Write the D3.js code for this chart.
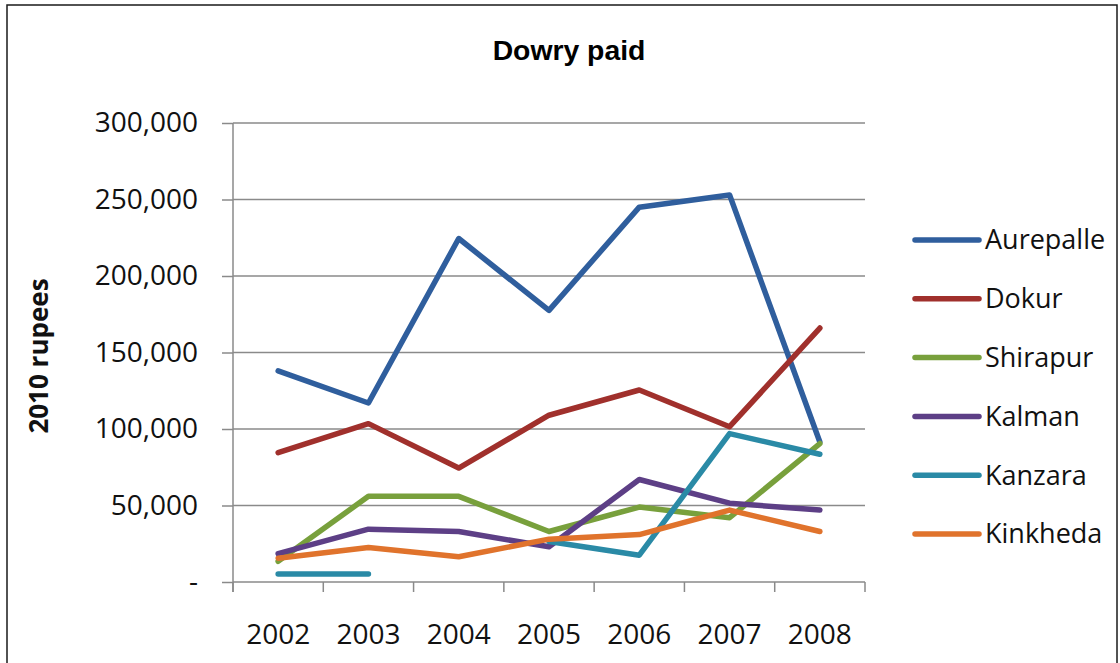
<!DOCTYPE html>
<html>
<head>
<meta charset="utf-8">
<script src="https://cdn.jsdelivr.net/npm/d3@7/dist/d3.min.js"></script>
<style>
  html, body { margin: 0; padding: 0; background: #fff; }
  svg { display: block; }
</style>
</head>
<body>
<svg id="chart" width="1120" height="663"></svg>
<script>
// Dowry paid per village, in 2010 rupees
const years = ["2002", "2003", "2004", "2005", "2006", "2007", "2008"];
const villages = ["Aurepalle", "Dokur", "Shirapur", "Kalman", "Kanzara", "Kinkheda"];
const aurepalle = [138000, 117000, 224500, 177500, 245000, 253000, 91500];
const dokur     = [84500, 103500, 74500, 109000, 125500, 101500, 166000];
const shirapur  = [13500, 56000, 56000, 33000, 49000, 42000, 90500];
const kalman    = [18500, 34500, 33000, 23000, 67000, 51500, 47000];
const kanzara   = [5200, 5200, null, 26500, 17500, 97000, 83500];
const kinkheda  = [15500, 22500, 16500, 28000, 31000, 47000, 33000];
const yTicks = [0, 50000, 100000, 150000, 200000, 250000, 300000];
const colors = ["#2f5e9d", "#a0302c", "#78a03c", "#5d3f86", "#2a8aa6", "#e0732c"];

const seriesValues = [aurepalle, dokur, shirapur, kalman, kanzara, kinkheda];
const series = villages.map((name, i) => ({
  name,
  color: colors[i],
  values: years.map((y, j) => ({ year: y, value: seriesValues[i][j] }))
}));

const svg = d3.select("#chart");
const tickFont = "'Open Sans', 'Noto Sans', sans-serif";

// outer frame
svg.append("rect")
  .attr("x", 7).attr("y", 5).attr("width", 1110).attr("height", 700)
  .attr("fill", "none").attr("stroke", "#1a1a1a").attr("stroke-width", 1.5);

const plotLeft = 233, plotRight = 865, plotTop = 123, plotBottom = 582;
const x = d3.scaleBand().domain(years).range([plotLeft, plotRight]).padding(0);
const y = d3.scaleLinear().domain([0, 300000]).range([plotBottom, plotTop]);

// title
svg.append("text")
  .attr("transform", "translate(569,60) scale(1.05,1)")
  .attr("text-anchor", "middle")
  .style("font-family", "'Liberation Sans', Arial, sans-serif")
  .style("font-weight", "bold")
  .style("font-size", "27px")
  .text("Dowry paid");

// horizontal gridlines
svg.append("g")
  .selectAll("line")
  .data(yTicks.filter(d => d > 0))
  .join("line")
  .attr("x1", plotLeft).attr("x2", plotRight)
  .attr("y1", d => y(d)).attr("y2", d => y(d))
  .attr("stroke", "#8a8a8a").attr("stroke-width", 1.5);

// y axis
const yAxis = d3.axisLeft(y)
  .tickValues(yTicks)
  .tickSizeInner(11).tickSizeOuter(0).tickPadding(24)
  .tickFormat(d => d === 0 ? "-" : d3.format(",")(d));
const gy = svg.append("g").attr("transform", `translate(${plotLeft},0)`).call(yAxis);
gy.select(".domain").remove();
gy.selectAll(".tick line").attr("stroke", "#8a8a8a").attr("stroke-width", 1.5);
gy.selectAll(".tick text")
  .style("font-family", tickFont).style("font-size", "28px").attr("fill", "#111");
svg.append("line")
  .attr("x1", plotLeft).attr("x2", plotLeft).attr("y1", plotTop).attr("y2", plotBottom + 10)
  .attr("stroke", "#8a8a8a").attr("stroke-width", 1.5);

// x axis baseline and category boundary ticks
svg.append("line")
  .attr("x1", plotLeft).attr("x2", plotRight).attr("y1", plotBottom).attr("y2", plotBottom)
  .attr("stroke", "#8a8a8a").attr("stroke-width", 1.5);
svg.append("g")
  .selectAll("line")
  .data(years.map(d => x(d)).concat([x.range()[1]]))
  .join("line")
  .attr("x1", d => d).attr("x2", d => d)
  .attr("y1", plotBottom).attr("y2", plotBottom + 10)
  .attr("stroke", "#8a8a8a").attr("stroke-width", 1.5);

const xAxis = d3.axisBottom(x).tickSize(0).tickPadding(42);
const gx = svg.append("g").attr("transform", `translate(0,${plotBottom})`).call(xAxis);
gx.select(".domain").remove();
gx.selectAll(".tick text")
  .style("font-family", tickFont).style("font-size", "28px").attr("fill", "#111");

// y axis title
svg.append("text")
  .attr("transform", "translate(48,356) rotate(-90)")
  .attr("text-anchor", "middle")
  .style("font-family", tickFont)
  .style("font-weight", "bold")
  .style("font-size", "26px")
  .attr("fill", "#111")
  .text("2010 rupees");

// series lines
const line = d3.line()
  .defined(d => d.value !== null)
  .x(d => x(d.year) + x.bandwidth() / 2)
  .y(d => y(d.value));

svg.append("g")
  .selectAll("path")
  .data(series)
  .join("path")
  .attr("d", d => line(d.values))
  .attr("fill", "none")
  .attr("stroke", d => d.color)
  .attr("stroke-width", 5.5)
  .attr("stroke-linejoin", "round")
  .attr("stroke-linecap", "round");

// legend
const legendY = d3.scalePoint().domain(villages).range([240, 534]);
const lg = svg.append("g").selectAll("g").data(series).join("g")
  .attr("transform", d => `translate(0,${legendY(d.name)})`);
lg.append("line")
  .attr("x1", 915).attr("x2", 979).attr("y1", 0).attr("y2", 0)
  .attr("stroke", d => d.color).attr("stroke-width", 5.5).attr("stroke-linecap", "round");
lg.append("text")
  .attr("x", 985).attr("dy", "0.35em")
  .style("font-family", tickFont).style("font-size", "27px").attr("fill", "#111")
  .text(d => d.name);
</script>
</body>
</html>
